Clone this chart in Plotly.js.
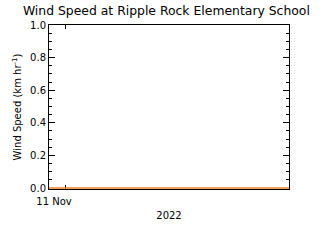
<!DOCTYPE html>
<html><head><meta charset="utf-8">
<script src="https://cdn.plot.ly/plotly-3.0.1.min.js"></script>
<style>html,body{margin:0;padding:0;background:#fff}#c{width:320px;height:240px}</style>
</head><body><div id="c"></div>
<script>
const times = ["2022-11-11 00:00","2022-11-11 06:00","2022-11-11 12:00","2022-11-11 18:00","2022-11-11 23:59"];
const windSpeed = [0, 0, 0, 0, 0];
const xTickVals = ["2022-11-11 00:00"];
const xTickText = ["11 Nov"];
const yTickVals = [0, 0.2, 0.4, 0.6, 0.8, 1.0];
const yTickText = ["0.0", "0.2", "0.4", "0.6", "0.8", "1.0"];

const font = {family: "DejaVu Sans, sans-serif", size: 10, color: "#000"};
Plotly.newPlot("c", [{
  x: times, y: windSpeed, type: "scatter", mode: "lines",
  line: {color: "#f0801e", width: 1.6}, cliponaxis: false, hoverinfo: "skip"
}], {
  width: 320, height: 240,
  margin: {l: 49, r: 31, t: 25, b: 51},
  paper_bgcolor: "#fff", plot_bgcolor: "#fff",
  showlegend: false,
  font: font,
  title: {text: "Wind Speed at Ripple Rock Elementary School", x: 0.52, xanchor: "center", y: 0.975, yanchor: "top", font: {family: "DejaVu Sans, sans-serif", size: 12.4, color: "#000"}},
  xaxis: {
    type: "date", range: ["2022-11-11 00:00", "2022-11-11 23:59"],
    tickvals: xTickVals, ticktext: xTickText, ticks: "", ticklabelstandoff: 3, ticklabelshift: 5,
    minor: {ticks: "inside", tick0: "2022-11-11 01:40", dtick: 864000000, ticklen: 4, tickcolor: "#000", showgrid: false},
    showline: true, linecolor: "#000", linewidth: 1, mirror: "ticks", layer: "below traces",
    showgrid: false, zeroline: false, tickfont: font,
    title: {text: "2022", font: font, standoff: 5}
  },
  yaxis: {
    range: [-0.006, 1], tickvals: yTickVals, ticktext: yTickText,
    ticks: "inside", ticklen: 6, tickcolor: "#000", tickwidth: 1,
    minor: {ticks: "inside", tick0: 0, dtick: 0.05, ticklen: 3, tickcolor: "#000", showgrid: false},
    showline: true, linecolor: "#000", linewidth: 1, mirror: "ticks", layer: "below traces",
    showgrid: false, zeroline: false, tickfont: font,
    title: {text: "Wind Speed (km hr<sup>-1</sup>)", font: font, standoff: 6}
  }
}, {staticPlot: true, displayModeBar: false});
</script></body></html>
